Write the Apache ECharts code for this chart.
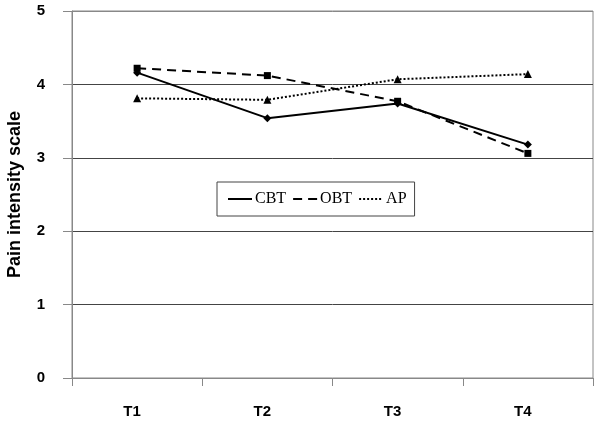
<!DOCTYPE html>
<html>
<head>
<meta charset="utf-8">
<script src="https://cdn.jsdelivr.net/npm/echarts@6/dist/echarts.min.js"></script>
<style>html,body{margin:0;padding:0;background:#fff;}#c{width:600px;height:426px;}</style>
</head>
<body>
<div id="c"></div>
<script>
var categories = ['T1', 'T2', 'T3', 'T4'];
var cbt = [4.16, 3.54, 3.74, 3.18];
var obt = [4.22, 4.12, 3.77, 3.06];
var ap = [3.81, 3.79, 4.07, 4.14];
var yTicks = [0, 1, 2, 3, 4, 5];

var chart = echarts.init(document.getElementById('c'));
chart.setOption({
  animation: false,
  backgroundColor: '#fff',
  grid: { left: 72, right: 7, top: 11, bottom: 48, show: true, borderColor: '#888', borderWidth: 1, containLabel: false, outerBoundsMode: 'none' },
  legend: {
    left: 217, top: 182,
    orient: 'horizontal',
    data: ['CBT', 'OBT', 'AP'],
    borderColor: '#444', borderWidth: 1,
    padding: [9, 8, 9, 10],
    itemGap: 6,
    itemWidth: 24, itemHeight: 14,
    itemStyle: { opacity: 0 },
    textStyle: { fontFamily: 'Liberation Serif', fontSize: 16, color: '#000', padding: [0, 0, 0, -2] }
  },
  xAxis: {
    type: 'category',
    data: categories,
    boundaryGap: true,
    axisLine: { show: true, lineStyle: { color: '#888', width: 1 } },
    axisTick: { show: true, length: 8, lineStyle: { color: '#888' } },
    axisLabel: { fontFamily: 'Liberation Sans', fontWeight: 'bold', fontSize: 15, color: '#000', margin: 26, padding: [0, 10, 0, 0] },
    splitLine: { show: false }
  },
  yAxis: {
    type: 'value',
    min: yTicks[0], max: yTicks[yTicks.length - 1], interval: 1,
    name: 'Pain intensity scale',
    nameLocation: 'middle',
    nameGap: 48,
    nameTextStyle: { fontFamily: 'Liberation Sans', fontWeight: 'bold', fontSize: 18, color: '#000' },
    axisLine: { show: true, lineStyle: { color: '#888', width: 1 } },
    axisTick: { show: true, length: 9, lineStyle: { color: '#888' } },
    axisLabel: { fontFamily: 'Liberation Sans', fontWeight: 'bold', fontSize: 15, color: '#000', margin: 27 },
    splitLine: { show: true, lineStyle: { color: ['#888', '#444', '#444', '#444', '#444', '#888'], width: 1 } }
  },
  series: [
    {
      name: 'CBT', type: 'line', data: cbt,
      symbol: 'diamond', symbolSize: 8,
      itemStyle: { color: '#000' },
      lineStyle: { color: '#000', width: 2, type: 'solid' }
    },
    {
      name: 'OBT', type: 'line', data: obt,
      symbol: 'rect', symbolSize: 7,
      itemStyle: { color: '#000' },
      lineStyle: { color: '#000', width: 2, type: [9, 6] }
    },
    {
      name: 'AP', type: 'line', data: ap,
      symbol: 'triangle', symbolSize: 8,
      itemStyle: { color: '#000' },
      lineStyle: { color: '#000', width: 2, type: [2, 2] }
    }
  ]
});
</script>
</body>
</html>
